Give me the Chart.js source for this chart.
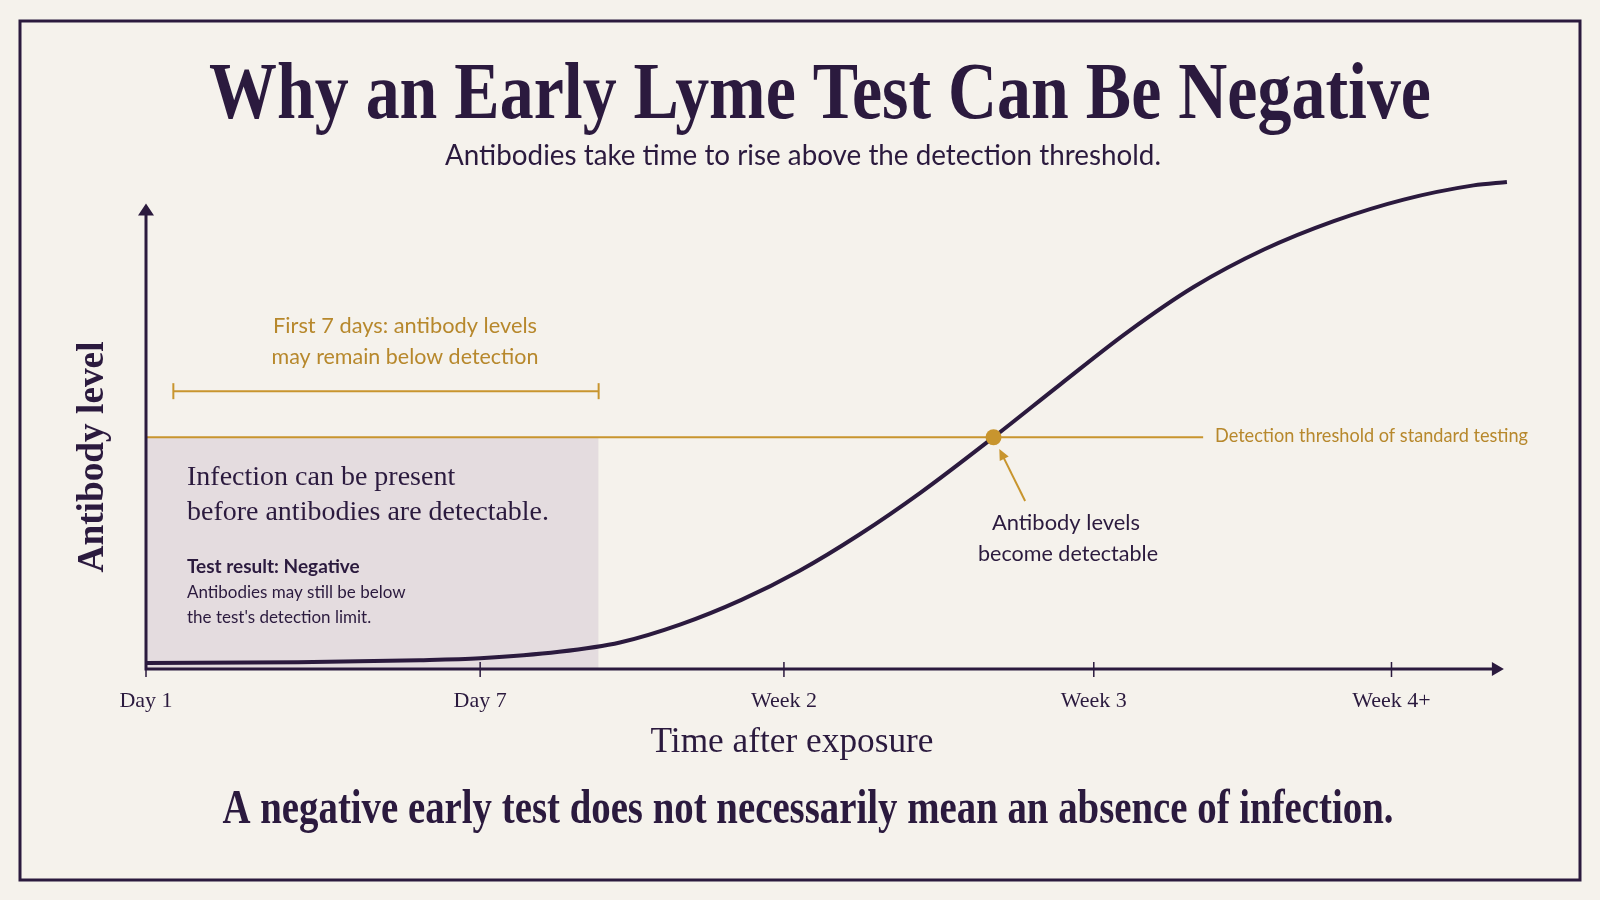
<!DOCTYPE html>
<html lang="en">
<head>
  <meta charset="UTF-8">
  <title>Why an Early Lyme Test Can Be Negative</title>
  <script src="https://cdn.jsdelivr.net/npm/chart.js"></script>
  <style>
    body { margin: 0; background: #f5f2ec; }
    canvas { display: block; }
  </style>
</head>
<body>
  <canvas id="chart" width="1600" height="900"></canvas>

  <script>
    // x = time position (schematic, roughly weeks), y = antibody level (0-100)
    const tickPos = [0, 1.1, 2.1, 3.12, 4.1];
    const tickLabels = ['Day 1', 'Day 7', 'Week 2', 'Week 3', 'Week 4+'];

    const timeVals = [0, 0.5, 0.9, 1.1, 1.36, 1.56, 1.76, 1.96, 2.15, 2.35, 2.55, 2.79, 3.01, 3.23, 3.45, 3.68, 3.91, 4.14, 4.37, 4.48];
    const antibodyVals = [1.2, 1.4, 1.8, 2.2, 3.5, 5.4, 9.1, 14.1, 20.0, 27.5, 36.0, 47.3, 58.1, 68.7, 78.0, 85.6, 91.4, 95.8, 98.7, 99.4];

    const threshold = 47.3;
    const thresholdEnd = 3.48;
    const detectTime = 2.79;
    const windowStart = 0.09;
    const windowEnd = 1.49;
    const bracketLevel = 56.7;

    const DARK = '#2b1a3e';
    const GOLD = '#c8952e';
    const GOLD_TEXT = '#b7882c';
    const SHADE = '#e4dcdf';
    const BG = '#f5f2ec';
    const SERIF = '"Liberation Serif", "DejaVu Serif", serif';
    const SANS = 'Lato, "Open Sans", sans-serif';

    function text(ctx, str, x, y, font, color, align, maxW) {
      ctx.font = font;
      ctx.fillStyle = color;
      ctx.textAlign = align;
      ctx.textBaseline = 'middle';
      if (maxW) ctx.fillText(str, x, y, maxW); else ctx.fillText(str, x, y);
    }

    const decor = {
      id: 'decor',
      beforeDraw(chart) {
        const ctx = chart.ctx;
        ctx.save();
        ctx.fillStyle = BG;
        ctx.fillRect(0, 0, chart.width, chart.height);
        ctx.strokeStyle = DARK;
        ctx.lineWidth = 3;
        ctx.strokeRect(20, 21, 1560, 859);
        ctx.restore();
      },
      afterDatasetsDraw(chart) {
        const ctx = chart.ctx;
        const xs = chart.scales.x, ys = chart.scales.y;
        const x0 = xs.getPixelForValue(0), y0 = ys.getPixelForValue(0);
        const yTop = ys.getPixelForValue(95), xEnd = xs.getPixelForValue(4.47);
        ctx.save();
        ctx.strokeStyle = DARK;
        ctx.fillStyle = DARK;
        ctx.lineWidth = 3;
        ctx.beginPath();
        ctx.moveTo(x0, y0 + 1.5); ctx.lineTo(x0, yTop + 10);
        ctx.moveTo(x0 - 1.5, y0); ctx.lineTo(xEnd - 10, y0);
        ctx.stroke();
        ctx.beginPath();
        ctx.moveTo(x0, yTop); ctx.lineTo(x0 - 8, yTop + 12); ctx.lineTo(x0 + 8, yTop + 12); ctx.closePath();
        ctx.moveTo(xEnd, y0); ctx.lineTo(xEnd - 12, y0 - 7); ctx.lineTo(xEnd - 12, y0 + 7); ctx.closePath();
        ctx.fill();
        // tick marks
        ctx.lineWidth = 1.5;
        ctx.beginPath();
        tickPos.forEach(v => {
          const px = xs.getPixelForValue(v);
          ctx.moveTo(px, y0 - 7); ctx.lineTo(px, y0 + 8);
        });
        ctx.stroke();
        // arrow to detection point
        const tx = xs.getPixelForValue(2.809), ty = ys.getPixelForValue(44.9);
        const fx = xs.getPixelForValue(2.894), fy = ys.getPixelForValue(34.3);
        const ang = Math.atan2(ty - fy, tx - fx);
        ctx.strokeStyle = GOLD;
        ctx.fillStyle = GOLD;
        ctx.lineWidth = 2;
        ctx.beginPath();
        ctx.moveTo(fx, fy);
        ctx.lineTo(tx - 8 * Math.cos(ang), ty - 8 * Math.sin(ang));
        ctx.stroke();
        ctx.beginPath();
        ctx.moveTo(tx, ty);
        ctx.lineTo(tx - 11 * Math.cos(ang) + 5 * Math.sin(ang), ty - 11 * Math.sin(ang) - 5 * Math.cos(ang));
        ctx.lineTo(tx - 11 * Math.cos(ang) - 5 * Math.sin(ang), ty - 11 * Math.sin(ang) + 5 * Math.cos(ang));
        ctx.closePath();
        ctx.fill();
        ctx.restore();
      },
      afterDraw(chart) {
        const ctx = chart.ctx;
        ctx.save();
        text(ctx, 'Why an Early Lyme Test Can Be Negative', 820, 97, 'bold 80px ' + SERIF, DARK, 'center', 1222);
        text(ctx, 'Antibodies take time to rise above the detection threshold.', 803, 156, '28px ' + SANS, DARK, 'center', 716);

        text(ctx, 'First 7 days: antibody levels', 405, 326, '22px ' + SANS, GOLD_TEXT, 'center', 264);
        text(ctx, 'may remain below detection', 405, 357, '22px ' + SANS, GOLD_TEXT, 'center', 267);

        text(ctx, 'Infection can be present', 187, 478, '28px ' + SERIF, DARK, 'left', 276);
        text(ctx, 'before antibodies are detectable.', 187, 513, '28px ' + SERIF, DARK, 'left', 362);
        text(ctx, 'Test result: Negative', 187, 567, 'bold 19px ' + SANS, DARK, 'left', 195);
        text(ctx, 'Antibodies may still be below', 187, 593, '17px ' + SANS, DARK, 'left', 238);
        text(ctx, "the test's detection limit.", 187, 618, '17px ' + SANS, DARK, 'left', 202);

        text(ctx, 'Detection threshold of standard testing', 1215, 436, '20px ' + SANS, GOLD_TEXT, 'left', 313);
        text(ctx, 'Antibody levels', 1066, 523, '22px ' + SANS, DARK, 'center', 148);
        text(ctx, 'become detectable', 1068, 554, '22px ' + SANS, DARK, 'center', 180);

        text(ctx, 'Time after exposure', 792, 743, '36px ' + SERIF, DARK, 'center', 283);
        text(ctx, 'A negative early test does not necessarily mean an absence of infection.', 808, 811, 'bold 48px ' + SERIF, DARK, 'center', 1171);

        // y axis title
        ctx.translate(103, 457);
        ctx.rotate(-Math.PI / 2);
        ctx.font = 'bold 38px ' + SERIF;
        ctx.fillStyle = DARK;
        ctx.textAlign = 'center';
        ctx.textBaseline = 'alphabetic';
        ctx.fillText('Antibody level', 0, 0, 231);
        ctx.restore();
      }
    };

    const curve = timeVals.map((t, i) => ({ x: t, y: antibodyVals[i] }));

    const ctx = document.getElementById('chart').getContext('2d');
    const chart = new Chart(ctx, {
      type: 'line',
      data: {
        datasets: [
          {
            label: 'Detection point',
            data: [{ x: detectTime, y: threshold }],
            showLine: false,
            pointRadius: 8,
            pointBackgroundColor: GOLD,
            pointBorderWidth: 0,
            order: 1
          },
          {
            label: 'Antibody level',
            data: curve,
            borderColor: DARK,
            borderWidth: 4,
            pointRadius: 0,
            cubicInterpolationMode: 'monotone',
            fill: false,
            order: 2
          },
          {
            label: 'First 7 days',
            data: [{ x: windowStart, y: bracketLevel }, { x: windowEnd, y: bracketLevel }],
            borderColor: GOLD,
            borderWidth: 2,
            pointStyle: 'line',
            pointRotation: 90,
            pointRadius: 8,
            pointBorderColor: GOLD,
            pointBorderWidth: 2,
            fill: false,
            order: 3
          },
          {
            label: 'Detection threshold',
            data: [{ x: 0, y: threshold }, { x: thresholdEnd, y: threshold }],
            borderColor: GOLD,
            borderWidth: 2,
            pointRadius: 0,
            fill: false,
            order: 4
          },
          {
            label: 'Below detection window',
            data: [{ x: 0, y: threshold }, { x: windowEnd, y: threshold }],
            borderWidth: 0,
            pointRadius: 0,
            backgroundColor: SHADE,
            fill: 'origin',
            order: 5
          }
        ]
      },
      options: {
        responsive: false,
        animation: false,
        layout: { padding: { left: 146, right: 87, top: 179, bottom: 0 } },
        plugins: { legend: { display: false }, tooltip: { enabled: false } },
        scales: {
          x: {
            type: 'linear',
            min: 0,
            max: 4.5,
            grid: { display: false, drawTicks: false },
            border: { display: false },
            afterBuildTicks: scale => { scale.ticks = tickPos.map(v => ({ value: v })); },
            afterFit: scale => { scale.height = 231; },
            ticks: {
              autoSkip: false,
              maxRotation: 0,
              padding: 19,
              color: DARK,
              font: { family: SERIF, size: 22 },
              callback: (value, index) => tickLabels[index]
            }
          },
          y: {
            display: false,
            min: 0,
            max: 100
          }
        }
      },
      plugins: [decor]
    });
  </script>
</body>
</html>
